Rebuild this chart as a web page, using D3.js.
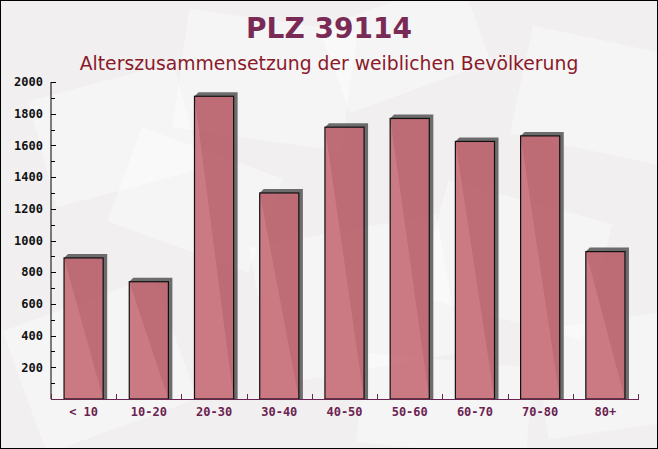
<!DOCTYPE html>
<html><head><meta charset="utf-8">
<script src="https://cdn.jsdelivr.net/npm/d3@7"></script>
<style>html,body{margin:0;padding:0;background:#fff}svg{display:block}</style>
</head><body>
<script>
const categories = ["< 10","10-20","20-30","30-40","40-50","50-60","60-70","70-80","80+"];
const values = [890, 740, 1910, 1300, 1715, 1770, 1625, 1660, 930];
const yTicks = [200,400,600,800,1000,1200,1400,1600,1800,2000];
const titleText = "PLZ 39114";
const subtitleText = "Alterszusammensetzung der weiblichen Bevölkerung";

const W = 658, H = 449;
const svg = d3.select("body").append("svg").attr("width", W).attr("height", H);

// background
svg.append("rect").attr("width", W).attr("height", H).attr("fill", "#f1eff0");
const deco = [
  [40,80,150,110,-15],[180,20,170,120,8],[330,0,150,90,-20],[520,40,150,110,12],
  [260,230,190,140,-10],[430,200,170,120,15],[20,300,160,130,-20],[540,320,140,110,-8],
  [120,150,150,100,20],[360,360,170,90,5]
];
deco.forEach(d=>{
  svg.append("rect").attr("x",d[0]).attr("y",d[1]).attr("width",d[2]).attr("height",d[3])
    .attr("fill","#ffffff").attr("opacity",0.4)
    .attr("transform",`rotate(${d[4]},${d[0]+d[2]/2},${d[1]+d[3]/2})`);
});

const m = {left:51, right:638, top:82, bottom:399};
const x = d3.scaleBand().domain(categories).range([m.left, m.right]).paddingInner(0.4).paddingOuter(0.2);
const y = d3.scaleLinear().domain([0,2000]).range([m.bottom, m.top]);

// bars with 3D shadow
const off = 4;
const g = svg.append("g");
categories.forEach((c,i)=>{
  const bx = x(c), bw = x.bandwidth(), by = y(values[i]), b0 = y(0);
  g.append("path")
    .attr("d", `M${bx},${by} L${bx+off},${by-off} L${bx+bw+off},${by-off} L${bx+bw+off},${b0} L${bx+bw},${b0} Z`)
    .attr("fill","#555").attr("opacity",0.85);
  g.append("rect").attr("x",bx).attr("y",by).attr("width",bw).attr("height",b0-by)
    .attr("fill","#c66c75").attr("fill-opacity",0.9)
    .attr("stroke","#111").attr("stroke-width",1.2);
});

// y axis
const yAxis = svg.append("g").attr("transform",`translate(${m.left},0)`);
yAxis.append("line").attr("x1",0).attr("x2",0).attr("y1",m.top).attr("y2",m.bottom).attr("stroke","#000");
const minor = d3.range(100, 2000, 200);
minor.forEach(v=>yAxis.append("line").attr("x1",0).attr("x2",4).attr("y1",Math.round(y(v))+0.5).attr("y2",Math.round(y(v))+0.5).attr("stroke","#000"));
yTicks.forEach(v=>{
  yAxis.append("line").attr("x1",0).attr("x2",5).attr("y1",Math.round(y(v))+0.5).attr("y2",Math.round(y(v))+0.5).attr("stroke","#000");
  yAxis.append("text").attr("x",-8).attr("y",y(v)).attr("dy","0.35em").attr("text-anchor","end")
    .attr("font-family","DejaVu Sans Mono").attr("font-weight","bold").attr("font-size",12).attr("fill","#111").text(v);
});

// x axis
const xAxis = svg.append("g");
xAxis.append("line").attr("x1",m.left).attr("x2",m.right+1).attr("y1",m.bottom+0.5).attr("y2",m.bottom+0.5).attr("stroke","#6b2350");
const step = x.step();
d3.range(0, categories.length+1).forEach(i=>{
  const xx = Math.round(m.left + i*step)+0.5;
  xAxis.append("line").attr("x1",xx).attr("x2",xx).attr("y1",m.bottom).attr("y2",m.bottom-5).attr("stroke","#6b2350");
});
categories.forEach(c=>{
  xAxis.append("text").attr("x",x(c)+x.bandwidth()/2).attr("y",416).attr("text-anchor","middle")
    .attr("font-family","DejaVu Sans Mono").attr("font-weight","bold").attr("font-size",12).attr("fill","#6b2350").text(c);
});

// titles
svg.append("text").attr("x",329).attr("y",38).attr("text-anchor","middle")
  .attr("font-family","DejaVu Sans").attr("font-weight","bold").attr("font-size",28).attr("fill","#7a2b55").text(titleText);
svg.append("text").attr("x",329).attr("y",70).attr("text-anchor","middle")
  .attr("font-family","DejaVu Sans").attr("font-size",18.8).attr("fill","#8a1a2a").text(subtitleText);

// frame
svg.append("rect").attr("x",0.5).attr("y",0.5).attr("width",W-1).attr("height",H-1).attr("fill","none").attr("stroke","#000");
</script>
</body></html>
